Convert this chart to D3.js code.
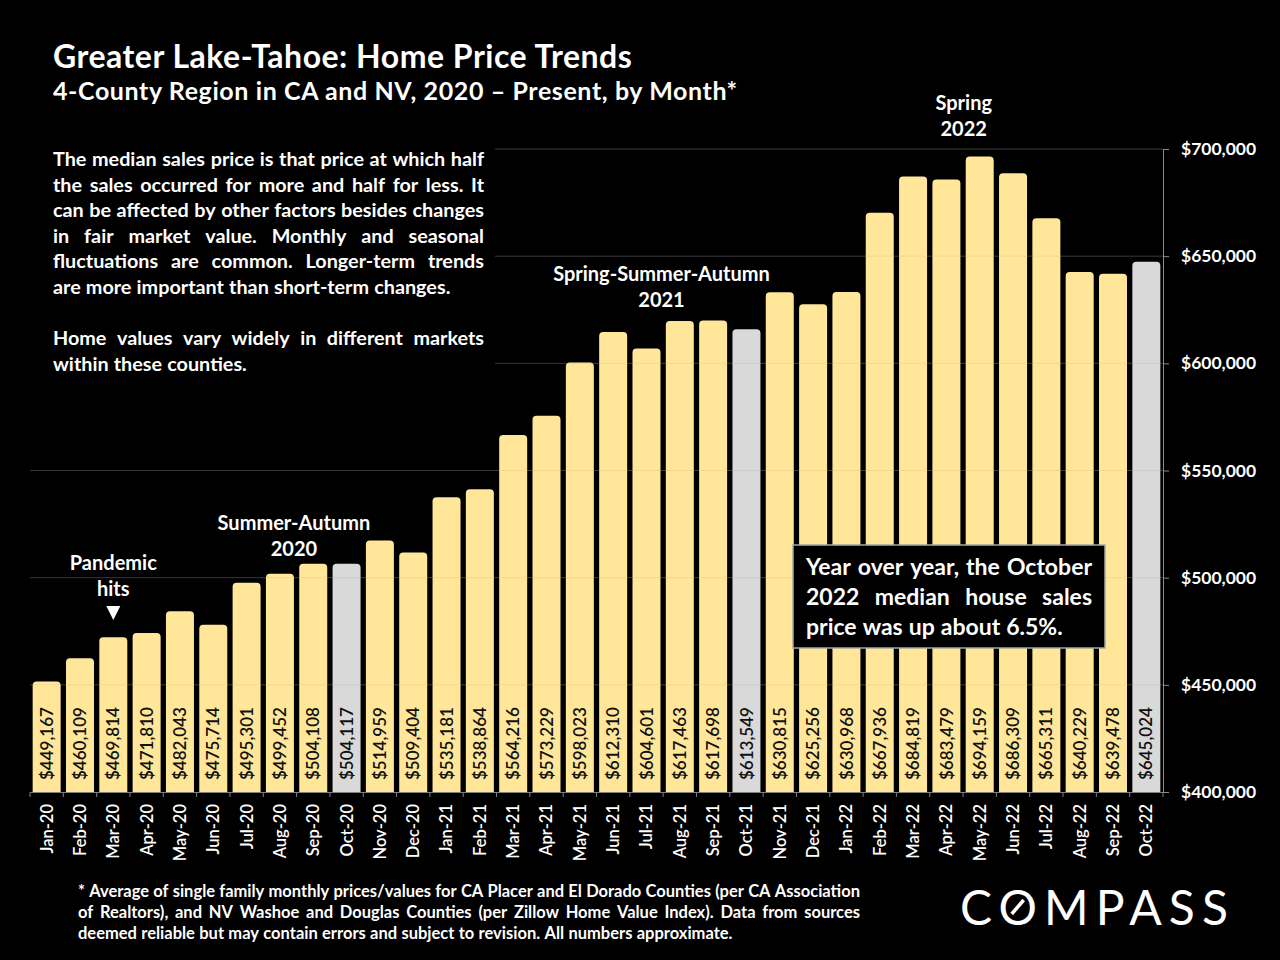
<!DOCTYPE html>
<html>
<head>
<meta charset="utf-8">
<script src="https://cdn.jsdelivr.net/npm/d3@7"></script>
<style>
  html, body { margin: 0; padding: 0; background: #000; }
  svg { display: block; }
  text { font-family: Lato, "Open Sans", sans-serif; font-weight: 700; }
</style>
</head>
<body>
<svg id="chart" width="1280" height="960"></svg>
<script>
// ---------------- DATA ----------------
const months = ["Jan-20","Feb-20","Mar-20","Apr-20","May-20","Jun-20","Jul-20","Aug-20","Sep-20","Oct-20","Nov-20","Dec-20",
  "Jan-21","Feb-21","Mar-21","Apr-21","May-21","Jun-21","Jul-21","Aug-21","Sep-21","Oct-21","Nov-21","Dec-21",
  "Jan-22","Feb-22","Mar-22","Apr-22","May-22","Jun-22","Jul-22","Aug-22","Sep-22","Oct-22"];
const prices = [449167,460109,469814,471810,482043,475714,495301,499452,504108,504117,514959,509404,
  535181,538864,564216,573229,598023,612310,604601,617463,617698,613549,630815,625256,
  630968,667936,684819,683479,694159,686309,665311,640229,639478,645024];
const highlightMonths = ["Oct-20","Oct-21","Oct-22"];
const yTicks = [400000,450000,500000,550000,600000,650000,700000];

const titleText = "Greater Lake-Tahoe: Home Price Trends";
const subtitleText = "4-County Region in CA and NV, 2020 \u2013 Present, by Month*";
const noteLines = [
  ["The median sales price is that price at which half", true],
  ["the sales occurred for more and half for less. It", true],
  ["can be affected by other factors besides changes", true],
  ["in fair market value. Monthly and seasonal", true],
  ["fluctuations are common. Longer-term trends", true],
  ["are more important than short-term changes.", false],
  ["", false],
  ["Home values vary widely in different markets", true],
  ["within these counties.", false]
];
const boxLines = [
  ["Year over year, the October", true],
  ["2022 median house sales", true],
  ["price was up about 6.5%.", false]
];
const footLines = [
  ["* Average of single family monthly prices/values for CA Placer and El Dorado Counties (per CA Association", true],
  ["of Realtors), and NV Washoe and Douglas Counties (per Zillow Home Value Index). Data from sources", true],
  ["deemed reliable but may contain errors and subject to revision. All numbers approximate.", false]
];
// anchor: month the label sits over; level: value (in $) of the first text line's baseline
const annotations = [
  {month: "Mar-20", level: 503600, lines: ["Pandemic", "hits"], arrow: true, dx: 0},
  {month: "Aug-20", level: 522200, lines: ["Summer-Autumn", "2020"], dx: 14},
  {month: "Jul-21", level: 638400, lines: ["Spring-Summer-Autumn", "2021"], dx: 15},
  {month: "May-22", level: 718200, lines: ["Spring", "2022"], dx: -16}
];

// ---------------- LAYOUT ----------------
(function () {
const svg = d3.select("#chart");
const pL = 30, pR = 1163, pT = 149, pB = 792;
const YELLOW = "#FFE699", GRAY = "#D9D9D9", GRID = "#3d3d3d";

const x = d3.scaleBand().domain(months).range([pL, pR]).paddingInner(0.16).paddingOuter(0.08);
const y = d3.scaleLinear().domain([400000, 700000]).range([pB, pT]);

svg.append("rect").attr("width", 1280).attr("height", 960).attr("fill", "#000");

// gridlines
svg.append("g").selectAll("line").data(yTicks.slice(1)).join("line")
  .attr("x1", pL).attr("x2", pR)
  .attr("y1", d => y(d)).attr("y2", d => y(d))
  .attr("stroke", GRID).attr("stroke-width", 1);

// bars with rounded caps
const cap = 5;
function barPath(d, i) {
  const x0 = x(months[i]), w = x.bandwidth();
  const yt = y(d) - cap, yb = y(400000), r = 4;
  return `M${x0},${yb} L${x0},${yt + r} Q${x0},${yt} ${x0 + r},${yt} L${x0 + w - r},${yt} Q${x0 + w},${yt} ${x0 + w},${yt + r} L${x0 + w},${yb} Z`;
}
svg.append("g").selectAll("path").data(prices).join("path")
  .attr("d", barPath)
  .attr("fill", (d, i) => highlightMonths.includes(months[i]) ? GRAY : YELLOW);

// faint gridlines visible through bars
svg.append("g").selectAll("line").data(yTicks.slice(1, -1)).join("line")
  .attr("x1", pL).attr("x2", pR)
  .attr("y1", d => y(d)).attr("y2", d => y(d))
  .attr("stroke", "#000").attr("stroke-opacity", 0.06).attr("stroke-width", 1);

// value labels
svg.append("g").selectAll("text").data(prices).join("text")
  .attr("transform", (d, i) => `translate(${x(months[i]) + x.bandwidth() / 2},${pB - 12}) rotate(-90)`)
  .attr("dy", "0.36em")
  .attr("text-anchor", "start")
  .attr("fill", "#111")
  .attr("font-size", 17)
  .style("font-weight", 600)
  .text(d => d3.format("$,")(d));

// x axis
const xAxis = svg.append("g").attr("transform", `translate(0,${pB})`)
  .call(d3.axisBottom(x).tickSize(0).tickPadding(0));
xAxis.select(".domain").attr("stroke", "#7f7f7f");
xAxis.selectAll("text")
  .attr("transform", "rotate(-90)")
  .attr("x", -12).attr("y", 0).attr("dy", "0.36em")
  .attr("text-anchor", "end")
  .attr("fill", "#fff")
  .attr("font-size", 16.5)
  .attr("font-family", "Lato, sans-serif")
  .style("font-weight", 600);
const bounds = d3.range(months.length + 1).map(i => pL + x.step() * (x.paddingOuter() - x.paddingInner() / 2) + i * x.step());
xAxis.append("g").selectAll("line").data(bounds).join("line")
  .attr("x1", d => d).attr("x2", d => d).attr("y1", 0).attr("y2", 5)
  .attr("stroke", "#7f7f7f");

// y axis right
const yAxis = svg.append("g").attr("transform", `translate(${pR},0)`)
  .call(d3.axisRight(y).tickValues(yTicks).tickSize(6).tickPadding(12).tickFormat(d3.format("$,")));
yAxis.select(".domain").attr("stroke", "#8c8c8c");
yAxis.selectAll(".tick line").attr("stroke", "#8c8c8c");
yAxis.selectAll("text").attr("fill", "#fff").attr("font-size", 17.5)
  .attr("font-family", "Lato, sans-serif").style("font-weight", 700);

// title
svg.append("text").attr("x", 53).attr("y", 68).attr("fill", "#fff").attr("font-size", 32)
  .style("letter-spacing", "0.5px").text(titleText);
svg.append("text").attr("x", 53).attr("y", 100).attr("fill", "#fff").attr("font-size", 25)
  .style("letter-spacing", "0.6px").text(subtitleText);

function justified(g, lines, x0, width, y0, lh, size, color) {
  lines.forEach(([line, just], li) => {
    if (!line) return;
    const words = line.split(" ");
    const yy = y0 + li * lh;
    const nodes = words.map(w => g.append("text").attr("y", yy).attr("fill", color).attr("font-size", size).text(w));
    const widths = nodes.map(n => n.node().getComputedTextLength());
    const total = d3.sum(widths);
    let gap = (just && words.length > 1) ? (width - total) / (words.length - 1) : size * 0.26;
    let scale = 1;
    if (just && gap < size * 0.2) { gap = size * 0.2; scale = (width - gap * (words.length - 1)) / total; }
    let cx = x0;
    nodes.forEach((n, i) => {
      n.attr("x", cx);
      if (scale !== 1) n.attr("textLength", widths[i] * scale).attr("lengthAdjust", "spacingAndGlyphs");
      cx += widths[i] * scale + gap;
    });
  });
}

svg.append("rect").attr("x", pL).attr("y", 140).attr("width", 465).attr("height", 240).attr("fill", "#000");
justified(svg.append("g"), noteLines, 53, 431, 166, 25.6, 19.8, "#fff");

annotations.forEach(a => {
  const cx = x(a.month) + x.bandwidth() / 2 + a.dx;
  const base = y(a.level);
  a.lines.forEach((t, k) => {
    svg.append("text").attr("x", cx).attr("y", base + k * 26).attr("text-anchor", "middle")
      .attr("fill", "#fff").attr("font-size", 20).text(t);
  });
  if (a.arrow) {
    const ty = base + 36;
    svg.append("path").attr("d", `M${cx - 7},${ty} L${cx + 7},${ty} L${cx},${ty + 14} Z`).attr("fill", "#fff");
  }
});

svg.append("rect").attr("x", 793).attr("y", 545).attr("width", 312).attr("height", 103)
  .attr("fill", "#000").attr("stroke", "#a6a6a6").attr("stroke-width", 1.5);
justified(svg.append("g"), boxLines, 806, 286, 575, 30, 23, "#fff");

justified(svg.append("g"), footLines, 78, 782, 897, 21, 16.5, "#fff");

const logo = svg.append("text").attr("x", 960).attr("y", 925).attr("fill", "#fff")
  .attr("font-size", 48).style("font-weight", 400)
  .attr("textLength", 268).attr("lengthAdjust", "spacing").text("COMPASS");
try {
  const ext = logo.node().getExtentOfChar(1);
  const ocx = ext.x + ext.width / 2, ocy = 907;
  svg.append("line").attr("x1", ocx - 6).attr("y1", ocy + 7).attr("x2", ocx + 6).attr("y2", ocy - 7)
    .attr("stroke", "#fff").attr("stroke-width", 3.5);
} catch (e) {}
})();
</script>
</body>
</html>
